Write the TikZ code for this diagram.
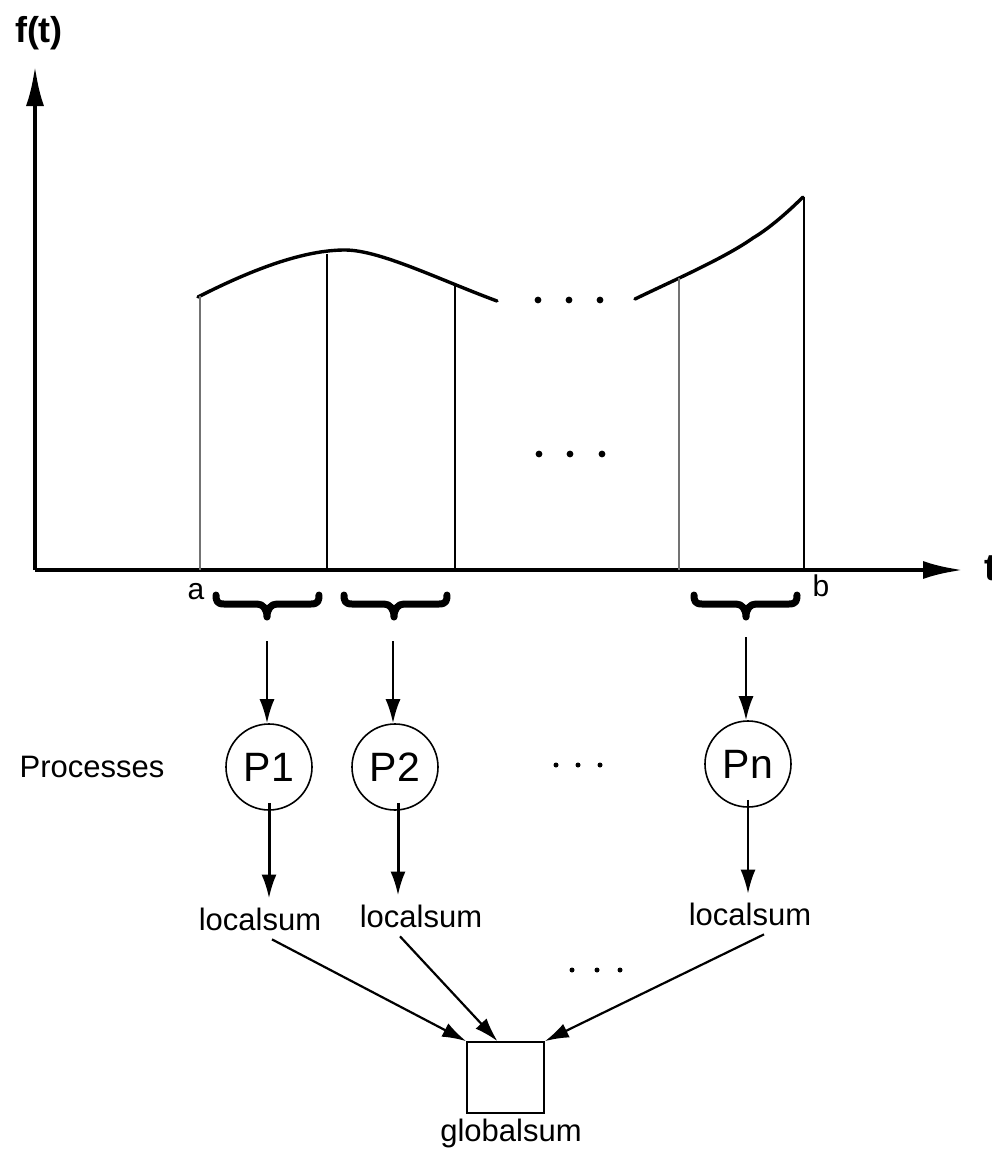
\documentclass[tikz,border=0pt]{standalone}
\usepackage{fontspec}
\setmainfont{Liberation Sans}
\usetikzlibrary{arrows.meta}
\begin{document}
\begin{tikzpicture}[x=1pt,y=-1pt,
  lbl/.style={font=\fontsize{31}{36}\selectfont, inner sep=0pt, outer sep=9pt},
  proc/.style={circle, draw, line width=1.6pt, minimum size=86pt, inner sep=0pt, font=\fontsize{41}{45}\selectfont},
  arr/.style={line width=2.2pt, -{Latex[length=24pt,width=15pt]}},
  thickarr/.style={line width=3pt, -{Latex[length=24pt,width=15pt]}},
  axisarr/.style={line width=4.4pt, -{Latex[length=40pt,width=18pt]}},
  curve/.style={line width=3.4pt, line cap=round, line join=round},
  bar/.style={line width=2pt},
  lightbar/.style={line width=1.7pt, black!55},
  bracestyle/.style={line width=7pt, line cap=round, line join=round},
  dot/.style={fill=black}
]
\useasboundingbox (0,0) rectangle (991,1159);

% axes
\coordinate (O) at (35,570);
\coordinate (ytip) at (35,66);
\coordinate (xtip) at (963,570);
\draw[axisarr] (O) -- (ytip);
\draw[axisarr] (O) -- (xtip);
\node[font=\bfseries\fontsize{36}{40}\selectfont, inner sep=0pt] (ft) at (39,33) {f(t)};
\node[font=\bfseries\fontsize{38}{42}\selectfont, inner sep=0pt, anchor=west] (tl) at (984,568) {t};

% curve pieces
\draw[curve] (198,297) .. controls (255,268) and (305,250) .. (345,250)
  .. controls (380,250) and (440,280) .. (497,301);
\draw[curve] (635,299) .. controls (670,282) and (725,258) .. (753,238)
  .. controls (770,228) and (790,210) .. (803,197);

% vertical strips
\draw[lightbar] (200,296) -- (200,570);
\draw[bar] (327,254) -- (327,570);
\draw[bar] (455,285) -- (455,570);
\draw[lightbar] (679,278) -- (679,570);
\draw[bar] (804,197) -- (804,570);

% dots in the plot
\foreach \x in {538,569,600} \fill[dot] (\x,300) circle (3.4);
\foreach \x in {539,570,602} \fill[dot] (\x,454) circle (3.4);

% a and b
\node[lbl, outer sep=0pt, font=\fontsize{30}{34}\selectfont] (la) at (196,592) {a};
\node[lbl, outer sep=0pt, font=\fontsize{30}{34}\selectfont] (lb) at (821,586) {b};

% braces
\foreach \xa/\xm/\xb in {216/267/319, 344/394/447, 694/746/797}{
  \draw[bracestyle] (\xa,595) .. controls (\xa,601) and (\xa+1,604) .. (\xa+8,604)
    -- (\xm-10,604) .. controls (\xm-4,604) and (\xm,609) .. (\xm,617)
    .. controls (\xm,609) and (\xm+4,604) .. (\xm+10,604)
    -- (\xb-8,604) .. controls (\xb-1,604) and (\xb,601) .. (\xb,595);
}

\coordinate (b1) at (267,641);
\coordinate (b2) at (393,641);
\coordinate (b3) at (746,637);

% processes
\node[lbl, outer sep=0pt] (proclbl) at (92,767) {Processes};
\node[proc] (P1) at (269,767) {P1};
\node[proc] (P2) at (395,767) {P2};
\node[proc] (Pn) at (748,764) {Pn};
\foreach \x in {556,578,600} \fill[dot] (\x,765) circle (2.5);

\draw[arr] (b1) -- (b1 |- P1.north);
\draw[arr] (b2) -- (b2 |- P2.north);
\draw[arr] (b3) -- (b3 |- Pn.north);

% localsums
\node[lbl] (ls1) at (260,919) {localsum};
\node[lbl] (ls2) at (421,916) {localsum};
\node[lbl] (ls3) at (750,914) {localsum};

\draw[thickarr] ([yshift=8pt]P1.south) -- (P1.south |- ls1.north);
\draw[thickarr] ([yshift=8pt,xshift=3pt]P2.south) -- ([xshift=3pt]P2.south |- ls2.north);
\draw[arr] ([yshift=8pt]Pn.south) -- (Pn.south |- ls3.north);

\foreach \x in {572,597,620} \fill[dot] (\x,970) circle (2.5);

% global sum
\node[draw, line width=1.6pt, minimum width=77pt, minimum height=71pt, inner sep=0pt] (gs) at (505.5,1077.5) {};
\node[lbl, outer sep=0pt] (gslbl) at (511,1133) {globalsum};

\draw[arr] ([xshift=12pt]ls1.south) -- (gs.north west);
\draw[arr] ([xshift=-21pt]ls2.south) -- ([xshift=-8pt]gs.north);
\draw[arr] ([xshift=14pt]ls3.south) -- (gs.north east);
\end{tikzpicture}
\end{document}
